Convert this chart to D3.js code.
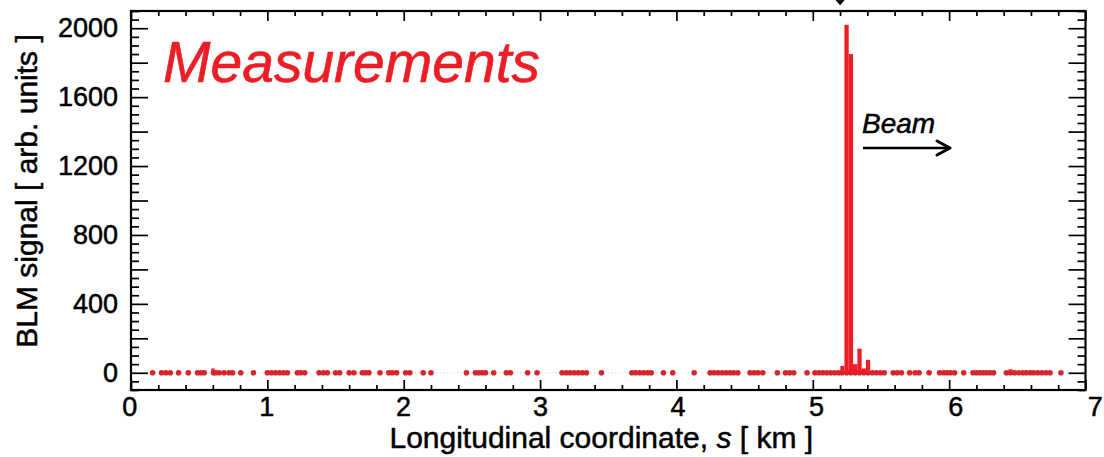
<!DOCTYPE html>
<html>
<head>
<meta charset="utf-8">
<script src="https://cdn.jsdelivr.net/npm/d3@7"></script>
<style>
  html, body { margin: 0; padding: 0; background: #fff; }
  svg { display: block; }
  text { font-family: "Liberation Sans", Arial, Helvetica, sans-serif; }
  .heavy { stroke-linejoin: round; paint-order: stroke; }
</style>
</head>
<body>
<svg id="chart" width="1104" height="457"></svg>
<script>
// BLM monitor positions along the ring [km]
const positions = [
  0.159, 0.224, 0.256, 0.288, 0.349, 0.42, 0.488, 0.513, 0.537, 0.605, 0.622, 0.647, 0.683, 0.72, 0.745,
  0.805, 0.898, 1.0, 1.03, 1.06, 1.09, 1.118, 1.147, 1.22, 1.245, 1.274, 1.379, 1.41, 1.44, 1.50, 1.53, 1.6,
  1.635, 1.697, 1.721, 1.745, 1.826, 1.891, 1.916, 1.948, 2.014, 2.045, 2.143, 2.20,
  2.46, 2.526, 2.55, 2.575, 2.6, 2.66, 2.753, 2.782, 2.909, 2.978,
  3.161, 3.192, 3.22, 3.25, 3.28, 3.31, 3.34, 3.45,
  3.673, 3.70, 3.73, 3.76, 3.79, 3.815, 3.905, 3.973, 4.13,
  4.247, 4.276, 4.305, 4.335, 4.364, 4.393, 4.42, 4.45, 4.54, 4.57, 4.598, 4.633,
  4.74, 4.80, 4.83, 4.86, 4.958, 5.016, 5.045, 5.074, 5.103, 5.132, 5.161, 5.19,
  5.215, 5.248, 5.279, 5.311, 5.343, 5.374, 5.405,
  5.437, 5.466, 5.495, 5.524, 5.59, 5.62, 5.65, 5.71, 5.75, 5.78, 5.853,
  5.93, 5.96, 5.985, 6.01, 6.04, 6.107, 6.175, 6.2, 6.225, 6.25, 6.275, 6.3, 6.325,
  6.42, 6.45, 6.48, 6.51, 6.54, 6.566, 6.595, 6.62, 6.65, 6.68, 6.71, 6.74, 6.82
];
// BLM signal [arb. units]; zero everywhere except listed monitors
const nonZeroPos = [0.605, 5.215, 5.248, 5.279, 5.311, 5.343, 5.374, 5.405, 6.45];
const nonZeroVal = [25, 40, 2020, 1850, 50, 140, 25, 75, 20];

const xMajorTicks = [0, 1, 2, 3, 4, 5, 6, 7];
const yLabelTicks = [0, 400, 800, 1200, 1600, 2000];

const signal = positions.map(p => {
  const i = nonZeroPos.indexOf(p);
  return i >= 0 ? nonZeroVal[i] : 0;
});
const data = positions.map((p, i) => ({ s: p, v: signal[i] }));

const padL = 131, padR = 1085.5, padT = 11, padB = 390;
const red = "#ee1c25";
const svg = d3.select("#chart");

const x = d3.scaleLinear().domain([0, 7]).range([padL, padR]);
const y = d3.scaleLinear().domain([-100, 2100]).range([padB, padT]);

const xMinor = d3.range(0, 7.0001, 0.2).map(v => +v.toFixed(2)).filter(v => !xMajorTicks.includes(v));
const yMajor = d3.range(0, 2100.1, 200);
const yMinor = d3.range(-100, 2100.1, 50).filter(v => v % 200 !== 0);

const g = svg.append("g");

// faint connecting dotted line
g.append("path")
  .datum(data)
  .attr("d", d3.line().x(d => x(d.s)).y(d => y(0)))
  .attr("fill", "none")
  .attr("stroke", "#e6c4c4")
  .attr("stroke-width", 1)
  .attr("stroke-dasharray", "1,2.5");

// dots
g.selectAll("circle.dot").data(data).join("circle")
  .attr("class", "dot")
  .attr("cx", d => x(d.s))
  .attr("cy", y(0))
  .attr("r", 2.8)
  .attr("fill", "#d6252d");

// bars (histogram-style) for non-zero signals
const bars = data.map((d, i) => {
  const prev = i > 0 ? data[i - 1].s : d.s - 0.03;
  const next = i < data.length - 1 ? data[i + 1].s : d.s + 0.03;
  const h0 = Math.max((d.s + prev) / 2, d.s - 0.016);
  const h1 = Math.min((d.s + next) / 2, d.s + 0.016);
  return { x0: h0, x1: h1, v: d.v };
}).filter(d => d.v > 0);

g.selectAll("rect.bar").data(bars).join("rect")
  .attr("class", "bar")
  .attr("x", d => x(d.x0))
  .attr("width", d => x(d.x1) - x(d.x0))
  .attr("y", d => y(d.v))
  .attr("height", d => y(0) - y(d.v))
  .attr("fill", red);

// axes
function styleAxis(sel) {
  sel.select(".domain").remove();
  sel.selectAll("line").attr("stroke", "#000").attr("stroke-width", 1.7);
  sel.selectAll("text").attr("fill", "#000").style("font-size", "27px")
    .attr("class", "heavy").attr("stroke", "#000").attr("stroke-width", 0.5);
}
// bottom
svg.append("g").attr("transform", `translate(0,${padB})`)
  .call(d3.axisBottom(x).tickValues(xMajorTicks).tickSize(-10).tickPadding(7).tickFormat(d3.format("d")))
  .call(styleAxis)
  .selectAll("text").attr("dx", d => (d < 4 ? -0.6 * (3 - d) : 0.25 * d * d - 3));
svg.append("g").attr("transform", `translate(0,${padB})`)
  .call(d3.axisBottom(x).tickValues(xMinor).tickSize(-5).tickFormat(""))
  .call(styleAxis);
// top
svg.append("g").attr("transform", `translate(0,${padT})`)
  .call(d3.axisTop(x).tickValues(xMajorTicks).tickSize(-10).tickFormat(""))
  .call(styleAxis);
svg.append("g").attr("transform", `translate(0,${padT})`)
  .call(d3.axisTop(x).tickValues(xMinor).tickSize(-5).tickFormat(""))
  .call(styleAxis);
// left
svg.append("g").attr("transform", `translate(${padL},0)`)
  .call(d3.axisLeft(y).tickValues(yMajor).tickSize(-17).tickPadding(13)
    .tickFormat(d => yLabelTicks.includes(d) ? d3.format("d")(d) : ""))
  .call(styleAxis);
svg.append("g").attr("transform", `translate(${padL},0)`)
  .call(d3.axisLeft(y).tickValues(yMinor).tickSize(-8).tickFormat(""))
  .call(styleAxis);
// right
svg.append("g").attr("transform", `translate(${padR},0)`)
  .call(d3.axisRight(y).tickValues(yMajor).tickSize(-17).tickFormat(""))
  .call(styleAxis);
svg.append("g").attr("transform", `translate(${padR},0)`)
  .call(d3.axisRight(y).tickValues(yMinor).tickSize(-8).tickFormat(""))
  .call(styleAxis);

// frame
svg.append("rect")
  .attr("x", padL).attr("y", padT)
  .attr("width", padR - padL).attr("height", padB - padT)
  .attr("fill", "none").attr("stroke", "#000").attr("stroke-width", 2.2);

// axis titles
const xt = svg.append("text")
  .attr("x", (padL + padR) / 2 - 7).attr("y", 448)
  .attr("text-anchor", "middle")
  .attr("class", "heavy").attr("stroke", "#000").attr("stroke-width", 0.5)
  .style("font-size", "30px").attr("fill", "#000");
xt.append("tspan").text("Longitudinal coordinate, ");
xt.append("tspan").style("font-style", "italic").text("s");
xt.append("tspan").text(" [ km ]");

svg.append("text")
  .attr("transform", `translate(37,${191}) rotate(-90)`)
  .attr("text-anchor", "middle")
  .attr("class", "heavy").attr("stroke", "#000").attr("stroke-width", 0.5)
  .style("font-size", "30px").attr("fill", "#000")
  .text("BLM signal [ arb. units ]");

// annotations
svg.append("text")
  .attr("x", 163).attr("y", 82)
  .style("font-size", "57px").style("font-style", "italic")
  .attr("class", "heavy").attr("stroke", red).attr("stroke-width", 0.6)
  .attr("fill", red)
  .text("Measurements");

svg.append("text")
  .attr("x", 862).attr("y", 133)
  .style("font-size", "28px").style("font-style", "italic")
  .attr("class", "heavy").attr("stroke", "#000").attr("stroke-width", 0.5)
  .attr("fill", "#000")
  .text("Beam");

svg.append("line")
  .attr("x1", 863).attr("y1", 148).attr("x2", 948).attr("y2", 148)
  .attr("stroke", "#000").attr("stroke-width", 2.4);
svg.append("path")
  .attr("d", "M937,141 L950,148 L937,155")
  .attr("fill", "none").attr("stroke", "#000").attr("stroke-width", 3)
  .attr("stroke-linecap", "round").attr("stroke-linejoin", "round");

// top arrow tip (marker pointing down at loss location)
svg.append("path")
  .attr("d", `M${x(5.2) - 6},-4 L${x(5.2)},3 L${x(5.2) + 6},-4`)
  .attr("fill", "none").attr("stroke", "#000").attr("stroke-width", 3);
</script>
</body>
</html>
